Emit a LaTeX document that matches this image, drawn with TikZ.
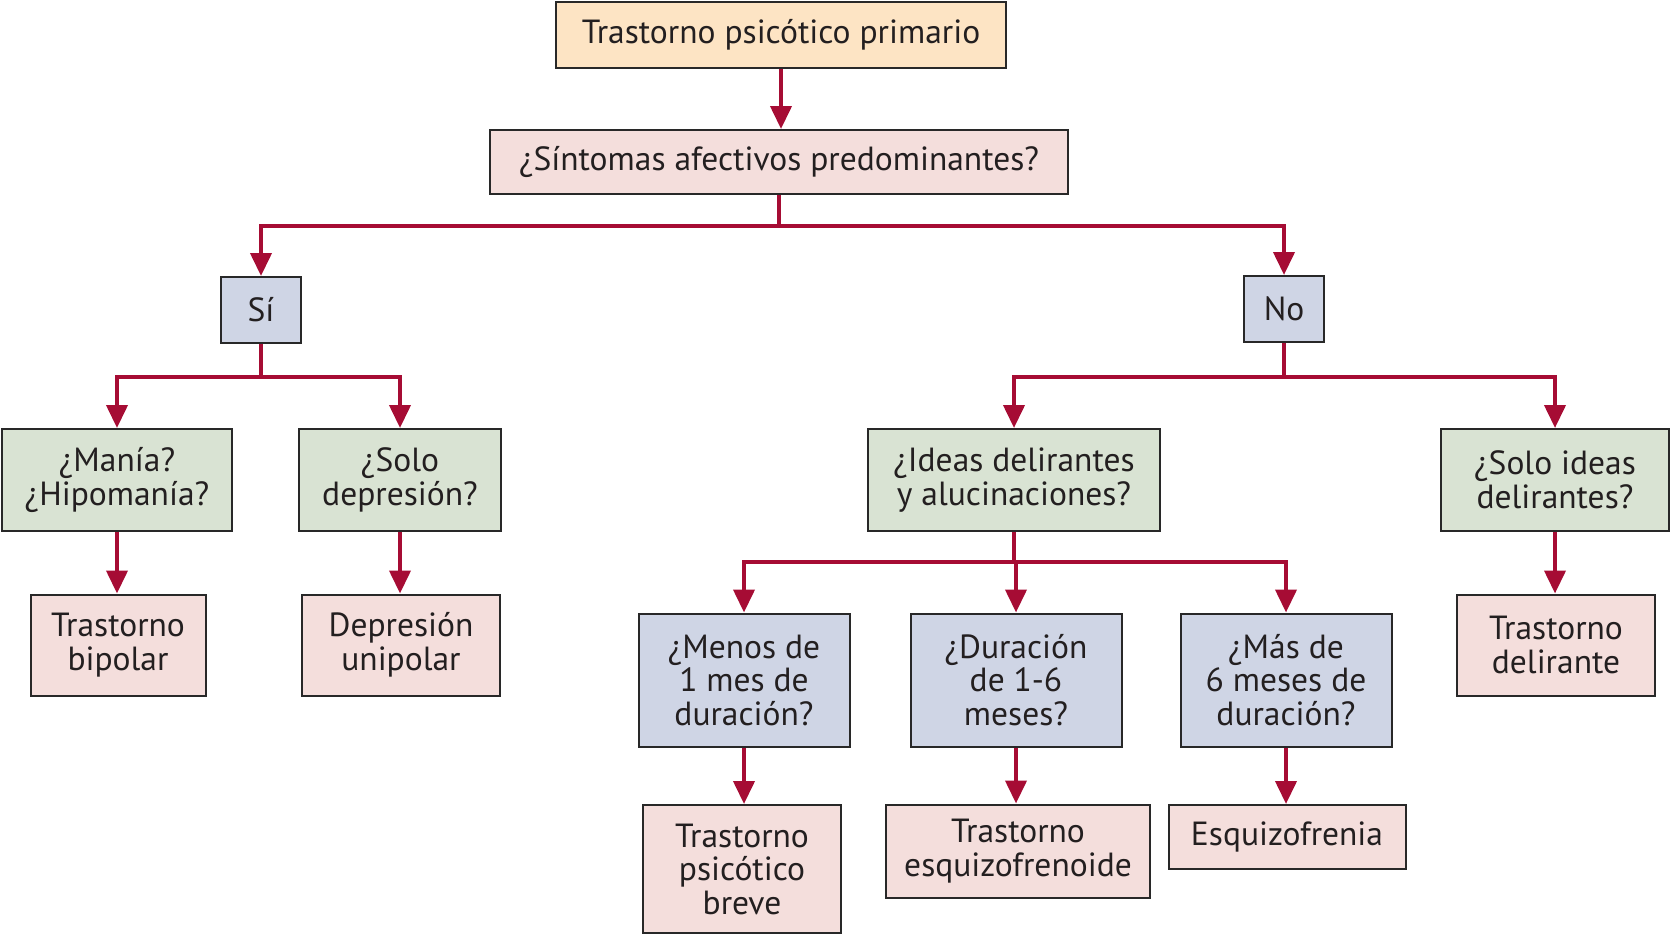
\documentclass[tikz,border=0pt]{standalone}
\usepackage{fontspec}
\setmainfont{PT Sans}
\usetikzlibrary{arrows.meta}
\definecolor{arrowred}{RGB}{166,12,52}
\definecolor{peach}{RGB}{253,228,196}
\definecolor{pinkbox}{RGB}{244,222,220}
\definecolor{bluebox}{RGB}{207,213,229}
\definecolor{greenbox}{RGB}{217,227,211}
\definecolor{boxborder}{RGB}{40,40,40}
\definecolor{txt}{RGB}{35,31,32}
\begin{document}
\begin{tikzpicture}[x=1pt,y=-1pt,
  box/.style={draw=boxborder, line width=2pt, text=txt, align=center, inner sep=0pt,
    font=\fontsize{33.5}{33.5}\selectfont},
  conn/.style={draw=arrowred, line width=4pt},
  arr/.style={conn, -{Triangle[length=23pt,width=21pt]}}]
\useasboundingbox (0,0) rectangle (1671,934);
% nodes
\node[box, fill=peach, minimum width=450pt, minimum height=66pt] (top) at (781,35) {Trastorno psicótico primario};
\node[box, fill=pinkbox, minimum width=578pt, minimum height=64pt] (sint) at (779,162) {¿Síntomas afectivos predominantes?};
\node[box, fill=bluebox, minimum width=80pt, minimum height=66pt] (si) at (261,310) {Sí};
\node[box, fill=bluebox, minimum width=80pt, minimum height=66pt] (no) at (1284,309) {No};
\node[box, fill=greenbox, minimum width=230pt, minimum height=102pt] (mania) at (117,480) {¿Manía?\\¿Hipomanía?};
\node[box, fill=greenbox, minimum width=202pt, minimum height=102pt] (sdep) at (400,480) {¿Solo\\depresión?};
\node[box, fill=greenbox, minimum width=292pt, minimum height=102pt] (ideas) at (1014,480) {¿Ideas delirantes\\y alucinaciones?};
\node[box, fill=greenbox, minimum width=228pt, minimum height=102pt] (sideas) at (1555,480) {¿Solo ideas\\delirantes?};
\node[box, fill=pinkbox, minimum width=175pt, minimum height=101pt] (bip) at (118,645) {Trastorno\\bipolar};
\node[box, fill=pinkbox, minimum width=198pt, minimum height=101pt] (unip) at (401,645) {Depresión\\unipolar};
\node[box, fill=bluebox, minimum width=211pt, minimum height=133pt] (menos) at (744,680) {¿Menos de\\1 mes de\\duración?};
\node[box, fill=bluebox, minimum width=211pt, minimum height=133pt] (dur) at (1016,680) {¿Duración\\de 1-6\\meses?};
\node[box, fill=bluebox, minimum width=211pt, minimum height=133pt] (mas) at (1286,680) {¿Más de\\6 meses de\\duración?};
\node[box, fill=pinkbox, minimum width=198pt, minimum height=101pt] (tdel) at (1556,645) {Trastorno\\delirante};
\node[box, fill=pinkbox, minimum width=198pt, minimum height=128pt] (breve) at (742,869) {Trastorno\\psicótico\\breve};
\node[box, fill=pinkbox, minimum width=264pt, minimum height=93pt] (esqz) at (1018,851) {Trastorno\\esquizofrenoide};
\node[box, fill=pinkbox, minimum width=237pt, minimum height=64pt] (esq) at (1287,837) {Esquizofrenia};
% junctions
\coordinate (j1) at (779,226);
\coordinate (j2) at (261,377);
\coordinate (j3) at (1284,377);
\coordinate (j4) at (1014,562);
% connectors
\draw[arr] (top.south) -- (top.south |- sint.north);
\draw[conn] (sint.south) -- (j1);
\draw[arr] (j1) -| (si.north);
\draw[arr] (j1) -| (no.north);
\draw[conn] (si.south) -- (j2);
\draw[arr] (j2) -| (mania.north);
\draw[arr] (j2) -| (sdep.north);
\draw[conn] (no.south) -- (j3);
\draw[arr] (j3) -| (ideas.north);
\draw[arr] (j3) -| (sideas.north);
\draw[conn] (ideas.south) -- (j4);
\draw[arr] (j4) -| (menos.north);
\draw[arr] (j4) -| (dur.north);
\draw[arr] (j4) -| (mas.north);
\draw[arr] (mania.south) -- (mania.south |- bip.north);
\draw[arr] (sdep.south) -- (sdep.south |- unip.north);
\draw[arr] (sideas.south) -- (sideas.south |- tdel.north);
\draw[arr] (menos.south) -- (menos.south |- breve.north);
\draw[arr] (dur.south) -- (dur.south |- esqz.north);
\draw[arr] (mas.south) -- (mas.south |- esq.north);
\end{tikzpicture}
\end{document}
